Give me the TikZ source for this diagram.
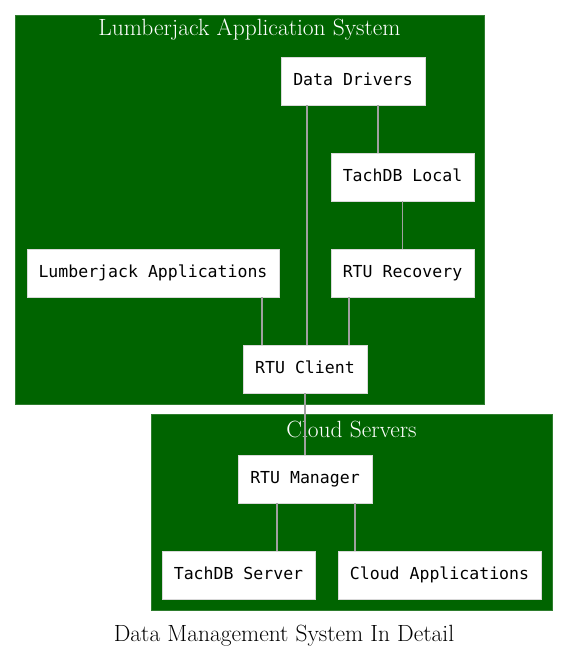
\documentclass[tikz,border=0pt]{standalone}
\usepackage{fontspec}
\newfontfamily\monofont{DejaVu Sans Mono}
\definecolor{clgreen}{HTML}{006400}
\definecolor{clborder}{HTML}{2E7D2E}
\definecolor{edgegray}{HTML}{A0A0A0}
\begin{document}
\begin{tikzpicture}[x=0.75pt,y=-0.75pt,
  box/.style={draw=white!85!black,fill=white,inner sep=0pt,minimum height=36pt,
    text height=9pt,text depth=2.5pt,
    font=\monofont\fontsize{12.4}{14}\selectfont},
  cluster/.style={draw=clborder,fill=clgreen},
  ctitle/.style={text=white,font=\fontsize{17.6}{20}\selectfont,inner sep=0pt},
  link/.style={draw=edgegray,line width=0.8pt}]
\useasboundingbox (0,0) rectangle (568,657);
\fill[white] (0,0) rectangle (568,657);
\draw[cluster] (15,15) rectangle (484,404);
\draw[cluster] (151,414) rectangle (552,610);
\node[ctitle] (t1) at (249.5,30) {Lumberjack Application System};
\node[ctitle] (t2) at (351.5,429) {Cloud Servers};
\node[inner sep=0pt,font=\fontsize{17.6}{20}\selectfont] (cap) at (284,636) {Data Management System In Detail};
\node[box,minimum width=108pt] (dd) at (353,81) {Data Drivers};
\node[box,minimum width=107.25pt] (tl) at (402.5,177) {TachDB Local};
\node[box,minimum width=189pt] (la) at (153,273) {Lumberjack Applications};
\node[box,minimum width=107.25pt] (rr) at (402.5,273) {RTU Recovery};
\node[box,minimum width=93pt] (rc) at (305,369) {RTU Client};
\node[box,minimum width=100.5pt] (rm) at (305,479) {RTU Manager};
\node[box,minimum width=114.75pt] (ts) at (238.5,575) {TachDB Server};
\node[box,minimum width=152.25pt] (ca) at (439.5,575) {Cloud Applications};
\coordinate (x307) at (307,0);
\coordinate (x378) at (378,0);
\coordinate (x402) at (402.5,0);
\coordinate (x262) at (262,0);
\coordinate (x349) at (349,0);
\coordinate (x305) at (305,0);
\coordinate (x277) at (277,0);
\coordinate (x355) at (355,0);
\draw[link] (dd.south -| x307) -- (rc.north -| x307);
\draw[link] (dd.south -| x378) -- (tl.north -| x378);
\draw[link] (tl.south -| x402) -- (rr.north -| x402);
\draw[link] (la.south -| x262) -- (rc.north -| x262);
\draw[link] (rr.south -| x349) -- (rc.north -| x349);
\draw[link] (rc.south -| x305) -- (rm.north -| x305);
\draw[link] (rm.south -| x277) -- (ts.north -| x277);
\draw[link] (rm.south -| x355) -- (ca.north -| x355);
\end{tikzpicture}
\end{document}
